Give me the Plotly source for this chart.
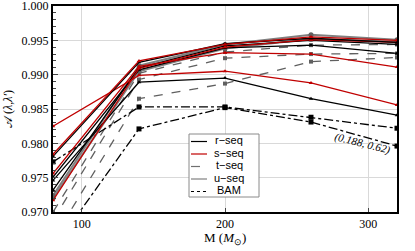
import plotly.graph_objects as go

M = [80, 140, 200, 260, 320]

r_seq_1 = [0.9781, 0.9918, 0.9945, 0.9953, 0.9947]
r_seq_2 = [0.9751, 0.9907, 0.9939, 0.9943, 0.9931]
r_seq_3 = [0.9746, 0.9889, 0.9895, 0.9865, 0.9841]
r_seq_4 = [0.9732, 0.9910, 0.9942, 0.9950, 0.9944]

s_seq_1 = [0.9825, 0.9899, 0.9905, 0.9888, 0.9856]
s_seq_2 = [0.9784, 0.9920, 0.9944, 0.9955, 0.9950]
s_seq_3 = [0.9756, 0.9912, 0.9932, 0.9930, 0.9911]
s_seq_4 = [0.9717, 0.9909, 0.9940, 0.9951, 0.9947]

t_seq_1 = [0.9700, 0.9902, 0.9933, 0.9943, 0.9944]
t_seq_2 = [0.9688, 0.9893, 0.9924, 0.9930, 0.9931]
t_seq_3 = [0.9660, 0.9865, 0.9887, 0.9919, 0.9925]

u_seq_1 = [0.9724, 0.9913, 0.9944, 0.9958, 0.9951]
u_seq_2 = [0.9720, 0.9905, 0.9938, 0.9952, 0.9948]

bam_1 = [0.9773, 0.9853, 0.9853, 0.9838, 0.9822]
bam_2 = [0.9646, 0.9821, 0.9852, 0.9831, 0.9796]

legend_names = ["r\u2212seq", "s\u2212seq", "t\u2212seq", "u\u2212seq", "BAM"]
annotation_text = "(0.188, 0.62)"

styles = {
    "r": dict(color="black", width=1.3, dash="solid", symbol="triangle-up", msize=4, mcolor="black"),
    "s": dict(color="#c00000", width=1.3, dash="solid", symbol="triangle-up", msize=4, mcolor="#c00000"),
    "t": dict(color="#606060", width=1.3, dash="dash", symbol="square", msize=4, mcolor="#606060"),
    "u": dict(color="#808080", width=2.0, dash="solid", symbol="circle", msize=5, mcolor="#606060"),
    "b": dict(color="black", width=1.3, dash="dashdot", symbol="square", msize=5, mcolor="black"),
}

series = [
    ("t", t_seq_3), ("t", t_seq_2), ("t", t_seq_1),
    ("b", bam_2), ("b", bam_1),
    ("u", u_seq_2), ("u", u_seq_1),
    ("r", r_seq_4), ("r", r_seq_3), ("r", r_seq_2),
    ("s", s_seq_4), ("s", s_seq_3), ("s", s_seq_1),
    ("r", r_seq_1), ("s", s_seq_2),
]

fig = go.Figure()
for key, ys in series:
    st = styles[key]
    fig.add_trace(go.Scatter(
        x=M, y=ys, mode="lines+markers", showlegend=False,
        line=dict(color=st["color"], width=st["width"], dash=st["dash"]),
        marker=dict(symbol=st["symbol"], size=st["msize"], color=st["mcolor"]),
    ))

# ---- manual compact legend (paper coordinates) ----
L, T, W, H = 53, 6, 344, 206   # plot area in pixels


def px(xp):
    return (xp - L) / W


def py(yp):
    return 1 - (yp - T) / H


fig.add_shape(type="rect", xref="paper", yref="paper",
              x0=px(189), x1=px(259), y0=py(197), y1=py(134),
              fillcolor="white", line=dict(color="#8a8a8a", width=1), layer="above")
leg_styles = [
    dict(color="black", width=1.2, dash="solid"),
    dict(color="#c00000", width=1.2, dash="solid"),
    dict(color="#707070", width=1.2, dash="dash"),
    dict(color="#808080", width=1.2, dash="solid"),
    dict(color="black", width=1.2, dash="dot"),
]
for i, (name, ls) in enumerate(zip(legend_names, leg_styles)):
    yc = 140 + i * 12.5
    fig.add_shape(type="line", xref="paper", yref="paper",
                  x0=px(191), x1=px(207), y0=py(yc + 1.5), y1=py(yc + 1.5),
                  line=ls, layer="above")
    fig.add_annotation(xref="paper", yref="paper", x=px(229), y=py(yc),
                       text=name, showarrow=False, xanchor="center", yanchor="middle",
                       font=dict(family="Liberation Sans", size=11, color="black"))

fig.add_annotation(x=296, y=0.9800, text="<i>" + annotation_text + "</i>", showarrow=False,
                   textangle=14, font=dict(family="Liberation Serif", size=11, color="black"))

fig.add_annotation(xref="paper", yref="paper", x=0.5, y=py(238), yanchor="middle",
                   text="M (<i>M</i><sub>\u2299</sub>)", showarrow=False,
                   font=dict(family="Liberation Serif", size=13, color="black"))

serif = "Liberation Serif"
fig.update_layout(
    width=415, height=251,
    margin=dict(l=L, r=415 - L - W, t=T, b=251 - T - H),
    paper_bgcolor="white", plot_bgcolor="white",
    font=dict(family=serif, size=12, color="black"),
    showlegend=False,
    xaxis=dict(range=[80, 320], tickvals=[100, 200, 300], ticks="inside", ticklen=4,
               showgrid=True, gridcolor="#d9d9d9", gridwidth=1,
               showline=True, linecolor="black", linewidth=2, mirror=True,
               zeroline=False, automargin=False, ticklabeloverflow="allow",
               tickfont=dict(family=serif, size=12)),
    yaxis=dict(range=[0.970, 1.000], dtick=0.005, tickformat=".3f", ticks="inside", ticklen=5,
               minor=dict(dtick=0.001, ticks="inside", ticklen=3, showgrid=False),
               showgrid=True, gridcolor="#d9d9d9", gridwidth=1,
               showline=True, linecolor="black", linewidth=2, mirror=True,
               zeroline=False, automargin=False, ticklabeloverflow="allow",
               tickfont=dict(family=serif, size=12),
               title=dict(text="\U0001D49C (<i>\u03bb</i>,<i>\u03bb\u2032</i>)", standoff=6,
                          font=dict(family=serif, size=12))),
)

fig.write_html("out.html", config={"displayModeBar": False},
               post_script="document.body.style.margin='0';document.body.style.overflow='hidden';")
